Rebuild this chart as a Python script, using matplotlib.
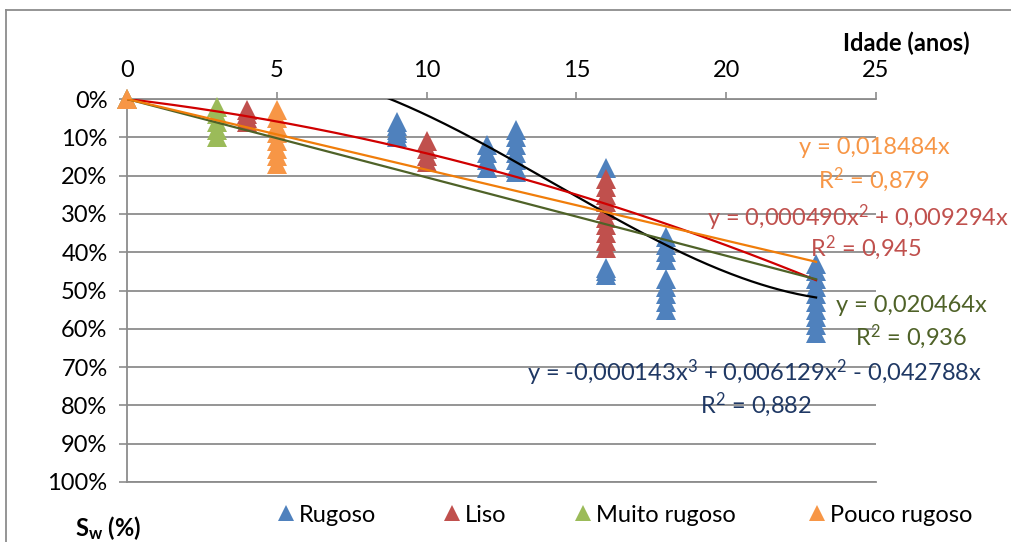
"""Sw vs idade scatter with Excel-style trendlines."""

import matplotlib
matplotlib.use("Agg")
import matplotlib.pyplot as plt
import numpy as np
from matplotlib.lines import Line2D
from matplotlib.ticker import PercentFormatter

plt.rcParams["font.family"] = ["Lato", "DejaVu Sans"]
plt.rcParams["mathtext.fontset"] = "custom"
plt.rcParams["mathtext.rm"] = "Lato"
plt.rcParams["mathtext.it"] = "Lato"
plt.rcParams["mathtext.bf"] = "Lato:bold"

# data (Sw in %)
rugoso_x = [9, 9, 9, 9, 9, 12, 12, 12, 12, 13, 13, 13, 13, 13, 13, 13,
            16, 16, 16, 16, 18, 18, 18, 18, 18, 18, 18, 18, 18,
            23, 23, 23, 23, 23, 23, 23, 23, 23, 23]
rugoso_y = [6, 7, 8, 9, 10, 12, 14, 16, 18, 8, 10, 12, 14, 16, 18, 19,
            18, 44, 45, 46, 36, 38, 40, 42, 47, 49, 51, 53, 55,
            43, 45, 47, 49, 51, 53, 55, 57, 59, 61]
liso_x = [0, 4, 4, 4, 4, 10, 10, 10, 10,
          16, 16, 16, 16, 16, 16, 16, 16, 16, 16]
liso_y = [0, 3, 4, 5, 6, 11, 13, 15, 16.5,
          21, 23, 25, 27, 29, 31, 33, 35, 37, 39]
muito_x = [0, 3, 3, 3, 3, 3]
muito_y = [0, 2, 4, 6, 8, 10]
pouco_x = [0, 5, 5, 5, 5, 5, 5, 5, 5]
pouco_y = [0, 3, 5, 7, 9, 11, 13, 15, 17]

# trendline coefficients (highest power first, no intercept)
rugoso_coef = [-0.000143, 0.006129, -0.042788, 0]
liso_coef = [0.000490, 0.009294, 0]
muito_coef = [0.020464, 0]
pouco_coef = [0.018484, 0]

series = ["Rugoso", "Liso", "Muito rugoso", "Pouco rugoso"]
colors = ["#4F81BD", "#C0504D", "#9BBB59", "#F79646"]
W, H = 1012, 542


def px(x, y):
    return x / W, 1 - y / H


fig = plt.figure(figsize=(W / 100, H / 100), dpi=100)
ax = fig.add_axes([127 / W, 1 - 482 / H, (876 - 127) / W, (482 - 99) / H])

grey = "#8C8C8C"
for xs, ys, c in zip([rugoso_x, liso_x, muito_x, pouco_x],
                     [rugoso_y, liso_y, muito_y, pouco_y], colors):
    ax.plot(xs, np.array(ys) / 100, "^", ms=14.4, color=c, mew=0,
            clip_on=False, zorder=3)

xfit = np.linspace(0, 23, 300)
for coef, c in zip([rugoso_coef, liso_coef, muito_coef, pouco_coef],
                   ["#000000", "#D00000", "#4F6228", "#F07D0A"]):
    ax.plot(xfit, np.polyval(coef, xfit), color=c, lw=1.6, zorder=4)

fs = 17
ax.set_xlim(0, 25)
ax.set_ylim(1, 0)
ax.xaxis.tick_top()
ax.set_xticks(range(0, 26, 5))
ax.set_yticks(np.arange(0, 1.01, 0.1))
ax.yaxis.set_major_formatter(PercentFormatter(1.0, decimals=0))
ax.tick_params(axis="both", direction="out", color=grey, width=1.2,
               labelsize=fs, pad=8)
ax.tick_params(axis="y", length=6)
ax.tick_params(axis="x", length=5)
ax.yaxis.grid(True, color=grey, lw=1.3)
ax.set_axisbelow(True)
for s in ["top", "left", "bottom"]:
    ax.spines[s].set_color(grey)
    ax.spines[s].set_linewidth(1.3)
ax.spines["right"].set_visible(False)

# equations
fig.text(*px(874, 147), "y = 0,018484x", color="#F79646", fontsize=fs,
         ha="center", va="center")
fig.text(*px(874, 180), "R$^2$ = 0,879", color="#F79646", fontsize=fs,
         ha="center", va="center")
fig.text(*px(1009, 218), "y = 0,000490x$^2$ + 0,009294x", color="#C0504D",
         fontsize=fs, ha="right", va="center")
fig.text(*px(866, 248), "R$^2$ = 0,945", color="#C0504D", fontsize=fs,
         ha="center", va="center")
fig.text(*px(911, 305), "y = 0,020464x", color="#4F6228", fontsize=fs,
         ha="center", va="center")
fig.text(*px(911, 337), "R$^2$ = 0,936", color="#4F6228", fontsize=fs,
         ha="center", va="center")
fig.text(*px(755, 373), "y = -0,000143x$^3$ + 0,006129x$^2$ - 0,042788x",
         color="#1F3864", fontsize=fs, ha="center", va="center")
fig.text(*px(756, 405), "R$^2$ = 0,882", color="#1F3864", fontsize=fs,
         ha="center", va="center")

fig.text(*px(906, 43), "Idade (anos)", fontsize=fs, weight="bold",
         ha="center", va="center")
fig.text(*px(108, 528), r"S$_\mathbf{w}$ (%)", fontsize=fs, weight="bold",
         ha="center", va="center")

# legend, one entry each
leg_x = [279, 445, 576, 810]
for name, c, lx in zip(series, colors, leg_x):
    h = Line2D([], [], marker="^", ls="", color=c, ms=12, mew=0)
    fig.legend([h], [name], loc="center left", bbox_to_anchor=px(lx, 515),
               frameon=False, fontsize=fs, handlelength=0.6,
               handletextpad=0.25, borderpad=0, borderaxespad=0)

# chart frame
fig.add_artist(Line2D([6.5 / W, 6.5 / W], [0, 1 - 10 / H], color=grey, lw=1.3))
fig.add_artist(Line2D([6.5 / W, 1], [1 - 10 / H, 1 - 10 / H], color=grey, lw=1.3))

fig.savefig("out.png", dpi=100)
plt.close(fig)
